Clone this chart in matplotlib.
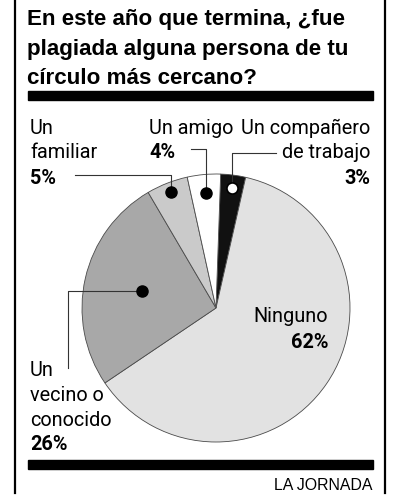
import numpy as np
import matplotlib
matplotlib.use("Agg")
import matplotlib.pyplot as plt

# data, clockwise from the top
categories = ["Un compañero de trabajo", "Ninguno", "Un vecino o conocido", "Un familiar", "Un amigo"]
shares = [3, 62, 26, 5, 4]
pct_labels = ["3%", "62%", "26%", "5%", "4%"]
colors = ["#111111", "#e2e2e2", "#a8a8a8", "#cacaca", "#ffffff"]

title_lines = ["En este año que termina, ¿fue",
               "plagiada alguna persona de tu",
               "círculo más cercano?"]

W, H = 395, 500
CX, CY, R = 216, 308, 134  # pie centre and radius in pixels
BOLD = ["Liberation Sans", "DejaVu Sans"]
NARROW = ["Roboto", "DejaVu Sans"]

fig = plt.figure(figsize=(W / 100, H / 100), dpi=100)
fig.patch.set_facecolor("white")

# pie axes sized so one data unit == R pixels
pax = fig.add_axes([(CX - R) / W, (H - CY - R) / H, 2 * R / W, 2 * R / H])
wedges, _ = pax.pie(shares, colors=colors, startangle=88, counterclock=False,
                    radius=1, wedgeprops=dict(edgecolor="#4a4a4a", linewidth=0.6))
pax.set_xlim(-1, 1)
pax.set_ylim(-1, 1)
pax.set_aspect("equal")
pax.axis("off")

# overlay in pixel coordinates (y down)
ax = fig.add_axes([0, 0, 1, 1], zorder=5)
ax.set_xlim(0, W)
ax.set_ylim(H, 0)
ax.axis("off")


def dot_xy(i, frac):
    w = wedges[i]
    mid = np.deg2rad((w.theta1 + w.theta2) / 2)
    return CX + frac * R * np.cos(mid), CY - frac * R * np.sin(mid)


# frame
ax.plot([15, 15], [0, 493], color="black", lw=1.6)
ax.plot([385, 385], [0, 493], color="black", lw=1.6)
ax.add_patch(plt.Rectangle((28, 91), 345, 9, color="black"))
ax.add_patch(plt.Rectangle((28, 460), 345, 9, color="black"))

for k, line in enumerate(title_lines):
    ax.text(27, 20 + k * 29, line, fontsize=16.1, fontweight="bold",
            family=BOLD, ha="left", va="center")

ax.text(372, 485, "LA JORNADA", fontsize=11.4, family=BOLD,
        ha="right", va="center")

lab = dict(fontsize=14.3, family=NARROW, va="center")
lab_b = dict(fontsize=14.3, family=NARROW, va="center", fontweight="bold")
line_kw = dict(color="#333333", lw=0.8)

# compañero de trabajo
x, y = dot_xy(0, 0.9)
ax.plot([x, x, 276], [y, 153, 153], **line_kw)
ax.plot(x, y, "o", ms=8, mfc="white", mec="black", mew=1.2, zorder=6)
ax.text(370, 128, "Un compañero", ha="right", **lab)
ax.text(370, 153, "de trabajo", ha="right", **lab)
ax.text(370, 179, pct_labels[0], ha="right", **lab_b)

# amigo
x, y = dot_xy(4, 0.86)
ax.plot([x, x, 191], [y, 149, 149], **line_kw)
ax.plot(x, y, "o", ms=8, color="black", zorder=6)
ax.text(149, 128, "Un amigo", ha="left", **lab)
ax.text(149, 153, pct_labels[4], ha="left", **lab_b)

# familiar
x, y = dot_xy(3, 0.93)
ax.plot([x, x, 75], [y, 175, 175], **line_kw)
ax.plot(x, y, "o", ms=8, color="black", zorder=6)
ax.text(30, 128, "Un", ha="left", **lab)
ax.text(30, 153, "familiar", ha="left", **lab)
ax.text(30, 179, pct_labels[3], ha="left", **lab_b)

# vecino o conocido
x, y = dot_xy(2, 0.57)
ax.plot([x, 68, 68], [y, y, 368], **line_kw)
ax.plot(x, y, "o", ms=8, color="black", zorder=6)
for k, t in enumerate(["Un", "vecino o", "conocido"]):
    ax.text(30, 371 + k * 24.5, t, ha="left", **lab)
ax.text(30, 445, pct_labels[2], ha="left", **lab_b)

# ninguno
ax.text(328, 317, "Ninguno", ha="right", **lab)
ax.text(328, 342, pct_labels[1], ha="right", **lab_b)

fig.savefig("out.png", dpi=100, facecolor="white")
